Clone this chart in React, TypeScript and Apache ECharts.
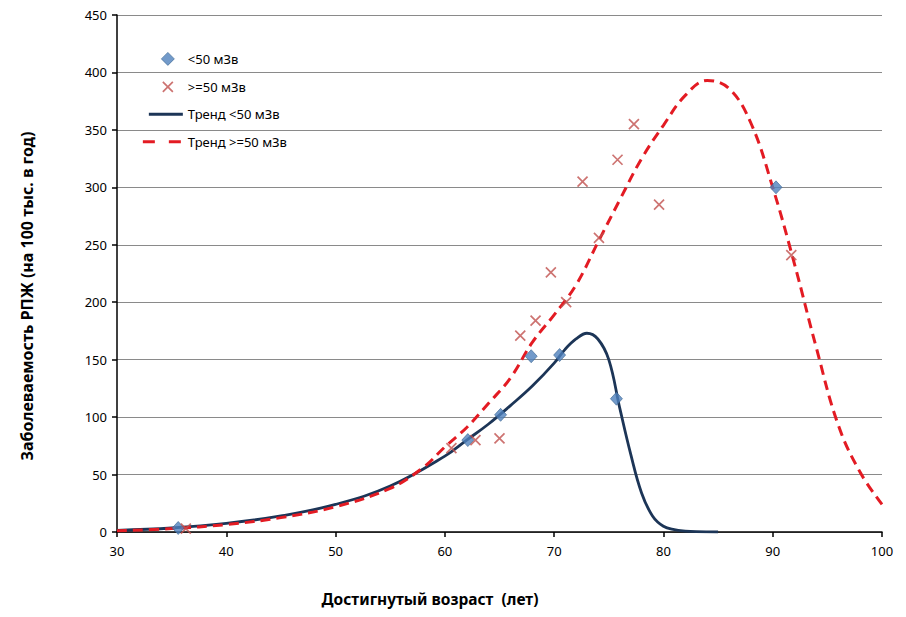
import React, { useEffect, useRef } from "react";
import * as echarts from "echarts";

// Scatter data: <50 mSv group
const lowAge = [35.6, 62.1, 65.1, 67.9, 70.5, 75.7, 90.3];
const lowRate = [3.5, 80, 102, 153, 154, 116, 300];

// Scatter data: >=50 mSv group
const highAge = [36.3, 60.6, 62.8, 65.0, 66.9, 68.3, 69.7, 71.1, 72.6, 74.1, 75.8, 77.3, 79.6, 91.7];
const highRate = [3, 73, 80, 81.5, 171, 184, 226, 200, 305, 256, 324, 355, 285, 241];

// Trend <50 mSv
const trendLowAge = [30, 35, 40, 45, 50, 55, 60, 62, 64, 66, 68, 70, 71, 72, 73, 74, 75, 76, 77, 78, 79, 80, 81, 82, 83, 85];
const trendLowRate = [1.5, 3.5, 7.5, 14, 24, 40, 66, 80, 94, 110, 127, 147, 159, 168, 173, 168, 150, 108, 68, 34, 14, 5, 2, 0.8, 0.3, 0];

// Trend >=50 mSv
const trendHighAge = [30, 35, 40, 45, 50, 55, 58, 60, 62, 64, 66, 68, 70, 72, 74, 76, 78, 80, 82, 84, 86, 88, 90, 92, 94, 96, 98, 100];
const trendHighRate = [1, 3, 6.5, 12.5, 22, 38, 56, 74, 91, 112, 134, 165, 189, 215, 252, 289, 325, 354, 380, 393, 386, 356, 300, 233, 160, 93, 52, 24];

const xTicks = [30, 40, 50, 60, 70, 80, 90, 100];
const yTicks = [0, 50, 100, 150, 200, 250, 300, 350, 400, 450];

const names = ["<50 мЗв", ">=50 мЗв", "Тренд <50 мЗв", "Тренд >=50 мЗв"];

const zip = (a: number[], b: number[]) => a.map((v, i) => [v, b[i]]);

const FONT = "Noto Sans";
const BLUE_LINE = "#1c3557";
const RED_LINE = "#e31b23";
const DIAMOND = "#4f81bd";
const CROSS = "#c0504d";

// legend icons (padded to full 42x14 box so glyphs sit where the reference has them)
const ICON_DIAMOND = "path://M0,7L0,7M27,0.5L33.5,7L27,13.5L20.5,7ZM42,7L42,7";
const ICON_CROSS = "path://M0,7L0,7M22,2L32,12M32,2L22,12M42,7L42,7";
const ICON_SOLID = "path://M0,5.5L0,5.5M8,5.5L42,5.5L42,8.5L8,8.5Z";
const ICON_DASHED = "path://M2,5.5L14,5.5L14,8.5L2,8.5ZM28,5.5L40,5.5L40,8.5L28,8.5ZM0,7L0,7M42,7L42,7";

export default function App() {
  const ref = useRef<HTMLDivElement>(null);
  useEffect(() => {
    if (!ref.current) return;
    const chart = echarts.init(ref.current, undefined, { renderer: "svg" });
    chart.setOption({
      animation: false,
      backgroundColor: "#ffffff",
      textStyle: { fontFamily: FONT },
      grid: { left: 117, right: 24, top: 15, bottom: 85, containLabel: false },
      legend: {
        orient: "vertical",
        left: 140,
        top: 52,
        padding: 0,
        itemWidth: 42,
        itemHeight: 14,
        itemGap: 14.5,
        symbolKeepAspect: true,
        data: [
          { name: names[0], icon: ICON_DIAMOND, itemStyle: { color: DIAMOND, borderColor: "#3a6591", borderWidth: 0.8 } },
          { name: names[1], icon: ICON_CROSS, itemStyle: { color: "rgba(0,0,0,0)", borderColor: CROSS, borderWidth: 1.7 } },
          { name: names[2], icon: ICON_SOLID, itemStyle: { color: BLUE_LINE, borderWidth: 0 } },
          { name: names[3], icon: ICON_DASHED, itemStyle: { color: RED_LINE, borderWidth: 0 } },
        ],
        textStyle: { fontFamily: FONT, fontSize: 13, color: "#000" },
      },
      xAxis: {
        type: "value",
        min: xTicks[0],
        max: xTicks[xTicks.length - 1],
        interval: 10,
        axisLine: { lineStyle: { color: "#000", width: 1.5 } },
        axisTick: { show: true, length: 5, lineStyle: { color: "#000", width: 1.5 } },
        axisLabel: { fontFamily: FONT, fontSize: 13, color: "#000", margin: 12 },
        splitLine: { show: false },
      },
      yAxis: {
        type: "value",
        min: yTicks[0],
        max: yTicks[yTicks.length - 1],
        interval: 50,
        axisLine: { show: true, lineStyle: { color: "#000", width: 1.5 } },
        axisTick: { show: true, length: 5, lineStyle: { color: "#000", width: 1.5 } },
        axisLabel: { fontFamily: FONT, fontSize: 13, color: "#000", margin: 10 },
        splitLine: { show: true, lineStyle: { color: "#8a8a8a", width: 1 } },
      },
      graphic: [
        {
          type: "text",
          x: 27,
          y: 296,
          rotation: Math.PI / 2,
          style: {
            text: "Заболеваемость РПЖ (на 100 тыс. в год)",
            fontFamily: FONT,
            fontSize: 16,
            fontWeight: "bold",
            fill: "#000",
            align: "center",
            verticalAlign: "middle",
          },
        },
        {
          type: "text",
          x: 430,
          y: 599,
          style: {
            text: "Достигнутый возраст  (лет)",
            fontFamily: FONT,
            fontSize: 15.5,
            fontWeight: "bold",
            fill: "#000",
            align: "center",
            verticalAlign: "middle",
          },
        },
      ],
      series: [
        {
          name: names[2],
          type: "line",
          data: zip(trendLowAge, trendLowRate),
          smooth: 0.4,
          symbol: "none",
          showSymbol: false,
          lineStyle: { color: BLUE_LINE, width: 2.8 },
          itemStyle: { color: BLUE_LINE },
          z: 2,
        },
        {
          name: names[3],
          type: "line",
          data: zip(trendHighAge, trendHighRate),
          smooth: 0.4,
          symbol: "none",
          showSymbol: false,
          lineStyle: { color: RED_LINE, width: 3, type: [10, 6] },
          itemStyle: { color: RED_LINE },
          z: 3,
        },
        {
          name: names[0],
          type: "scatter",
          data: zip(lowAge, lowRate),
          symbol: "diamond",
          symbolSize: [12, 13],
          itemStyle: { color: DIAMOND, borderColor: "#3a6591", borderWidth: 0.8 },
          z: 5,
        },
        {
          name: names[1],
          type: "scatter",
          data: zip(highAge, highRate),
          symbol: "path://M0,0L10,10M10,0L0,10",
          symbolSize: 10,
          itemStyle: { color: "rgba(0,0,0,0)", borderColor: CROSS, borderWidth: 1.7 },
          z: 6,
        },
      ],
    });
    return () => chart.dispose();
  }, []);
  return <div ref={ref} style={{ width: 906, height: 617, position: "absolute", left: 0, top: 0 }} />;
}
